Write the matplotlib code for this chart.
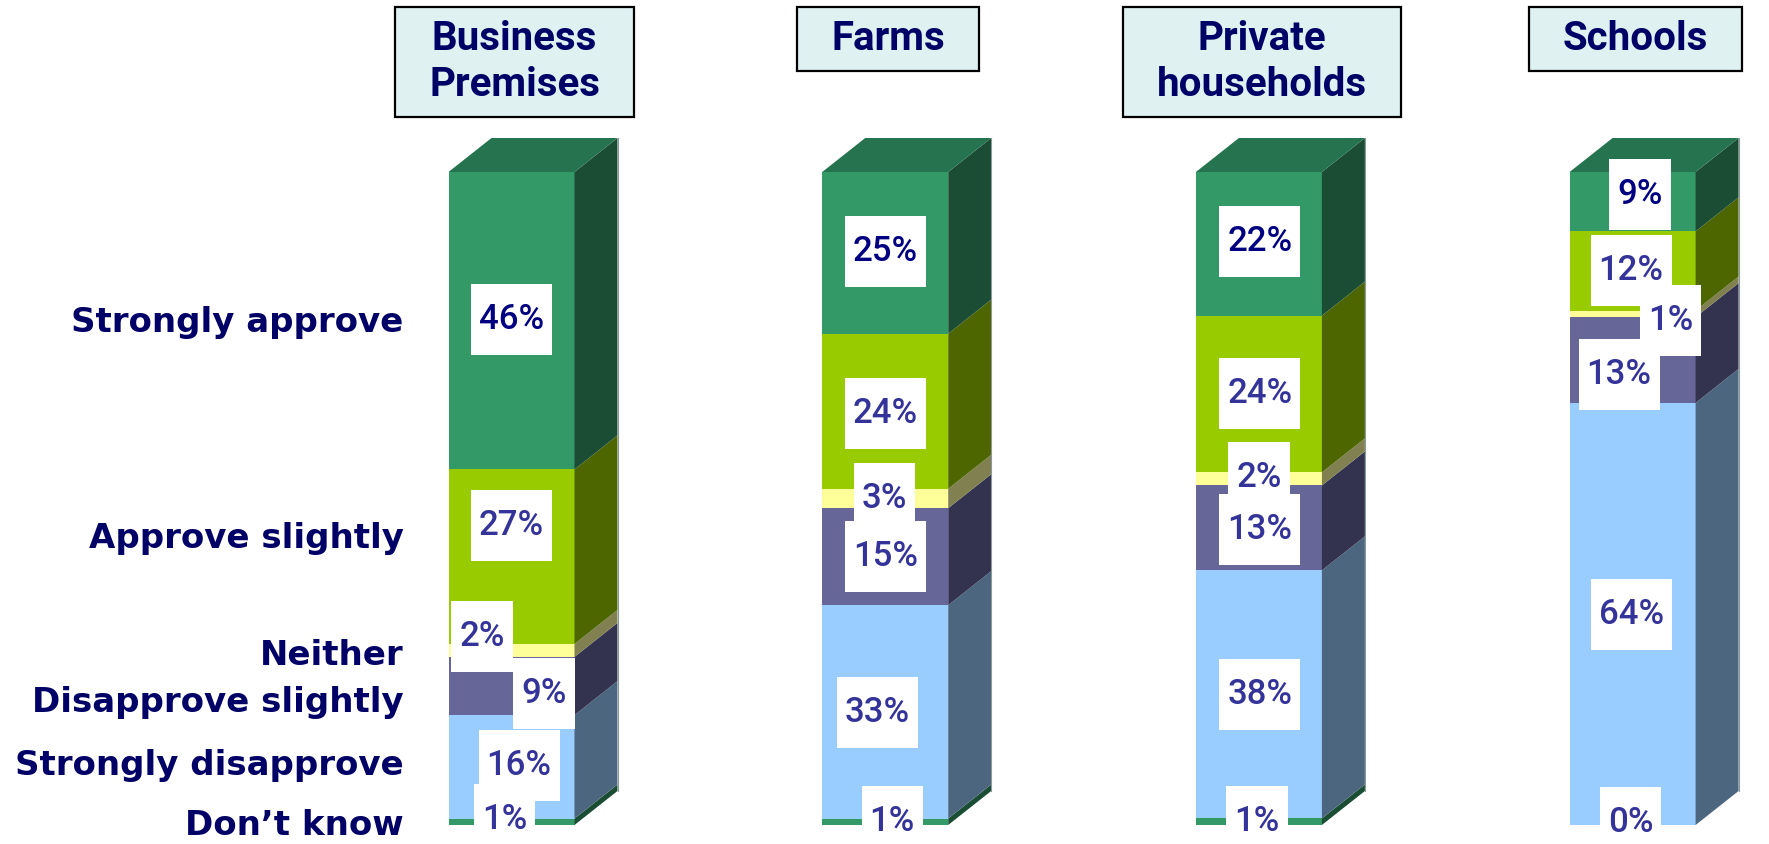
import matplotlib
matplotlib.use('Agg')
import matplotlib.pyplot as plt
from matplotlib.patches import Polygon, Rectangle
from matplotlib.transforms import IdentityTransform
import numpy as np

# ---------------- data ----------------
groups = ['Business\nPremises', 'Farms', 'Private\nhouseholds', 'Schools']
categories = ['Don\u2019t know', 'Strongly disapprove', 'Disapprove slightly',
              'Neither', 'Approve slightly', 'Strongly approve']
dont_know = [1, 1, 1, 0]
strongly_disapprove = [16, 33, 38, 64]
disapprove_slightly = [9, 15, 13, 13]
neither = [2, 3, 2, 1]
approve_slightly = [27, 24, 24, 12]
strongly_approve = [46, 25, 22, 9]
series = [dont_know, strongly_disapprove, disapprove_slightly,
          neither, approve_slightly, strongly_approve]

# ---------------- style ----------------
front_colors = ['#339966', '#99CCFF', '#666699', '#FFFF99', '#99CC00', '#339966']
side_colors = ['#1B4D35', '#4D6680', '#333350', '#808050', '#4D6600', '#1B4D35']
top_color = '#267350'
label_colors = ['#333399'] * 5 + ['#000080']
navy = '#000066'

# label nudges in pixels (x right, y down), per series (bottom-up) per group
nudges = [
    [(-7, -2), (7, 0), (-2, 0), (-2, -3)],          # don't know
    [(7.5, -1), (-8, 1), (1, 0.5), (-1.5, 1)],       # strongly disapprove
    [(32.5, 8), (0, 0), (1, 1.5), (-13.5, 15)],      # disapprove slightly
    [(-29.5, -13.5), (-1, -0.5), (0, -1), (38, 7)],  # neither
    [(0, -31), (0, 2), (1, -1), (-1.5, 0)],          # approve slightly
    [(0, -1), (0, -1), (1, -2), (7.5, -7.5)],        # strongly approve
]
# left legend label baseline offsets (pixels down from Business segment centre)
legend_base = [13, 8.5, 26.5, 15, -9, 11.5]

W, H = 1769, 844
fig = plt.figure(figsize=(W / 100, H / 100), dpi=100)
ax = fig.add_axes([0, 19 / H, 1, 653 / H])
spacing = 373.7   # pixels per category unit
x0px = 511.5
ax.set_xlim(-x0px / spacing, (W - x0px) / spacing)
ax.set_ylim(0, 100)
ax.axis('off')

bw = 126 / spacing
ddx = 43 / spacing
ddy = 34 * 100 / 653

vals = np.array(series, dtype=float)
totals = vals.sum(axis=0)
pct = vals / totals * 100
x = np.arange(len(groups))

bottom = np.zeros(len(groups))
centers = []
for k in range(len(series)):
    ax.bar(x, pct[k], bottom=bottom, width=bw, color=front_colors[k],
           linewidth=0, zorder=2)
    for i in range(len(groups)):
        b, t = bottom[i], bottom[i] + pct[k][i]
        if t > b:
            xr = x[i] + bw / 2
            ax.add_patch(Polygon([(xr, b), (xr + ddx, b + ddy), (xr + ddx, t + ddy), (xr, t)],
                                 closed=True, facecolor=side_colors[k],
                                 edgecolor='none', zorder=2, clip_on=False))
    centers.append(bottom + pct[k] / 2)
    bottom = bottom + pct[k]

# top faces
for i in range(len(groups)):
    xl, xr = x[i] - bw / 2, x[i] + bw / 2
    ax.add_patch(Polygon([(xl, 100), (xl + ddx, 100 + ddy), (xr + ddx, 100 + ddy), (xr, 100)],
                         closed=True, facecolor=top_color, edgecolor='none',
                         zorder=2, clip_on=False))
    ax.plot([xr + ddx, xr + ddx], [ddy, 100 + ddy], color='#8a9a9a', lw=0.8,
            zorder=3, clip_on=False)

# data labels
label_texts = []
for k in range(len(series)):
    for i in range(len(groups)):
        nx, ny = nudges[k][i]
        t = ax.annotate(f'{series[k][i]}%', xy=(x[i], centers[k][i]),
                        xytext=(nx, -ny), textcoords='offset pixels',
                        ha='center', va='center', fontsize=25,
                        family=['Roboto', 'DejaVu Sans'], fontweight='medium',
                        color=label_colors[k], zorder=10, annotation_clip=False)
        label_texts.append(t)

# group titles
title_texts = []
for i, g in enumerate(groups):
    t = ax.annotate(g, xy=(x[i], 1), xycoords=('data', 'figure fraction'),
                    xytext=(3, -20), textcoords='offset pixels',
                    ha='center', va='top', fontsize=29, fontweight='bold',
                    family=['Roboto', 'DejaVu Sans'], color=navy,
                    linespacing=1.25, zorder=10, annotation_clip=False)
    title_texts.append(t)

# left category labels
for k, cat in enumerate(categories):
    ax.annotate(cat, xy=(x[0] - bw / 2, centers[k][0]),
                xytext=(-45, -legend_base[k]), textcoords='offset pixels',
                ha='right', va='baseline', fontsize=24.5, fontweight='bold',
                family=['DejaVu Sans'], color=navy, zorder=10,
                annotation_clip=False)

fig.canvas.draw()
r = fig.canvas.get_renderer()
for t in label_texts:
    bb = t.get_window_extent(r)
    cx, cy = (bb.x0 + bb.x1) / 2, (bb.y0 + bb.y1) / 2
    w, h = bb.width + 16, 71
    ax.add_patch(Rectangle((cx - w / 2, cy - h / 2), w, h, transform=IdentityTransform(),
                           facecolor='white', edgecolor='none', zorder=9, clip_on=False))
for t in title_texts:
    bb = t.get_window_extent(r)
    px, py = 34, 13
    ax.add_patch(Rectangle((bb.x0 - px, bb.y0 - py), bb.width + 2 * px, bb.height + 2 * py,
                           transform=IdentityTransform(), facecolor='#DFF1F1',
                           edgecolor='black', linewidth=1.6, zorder=9, clip_on=False))

fig.savefig('out.png', dpi=100)
